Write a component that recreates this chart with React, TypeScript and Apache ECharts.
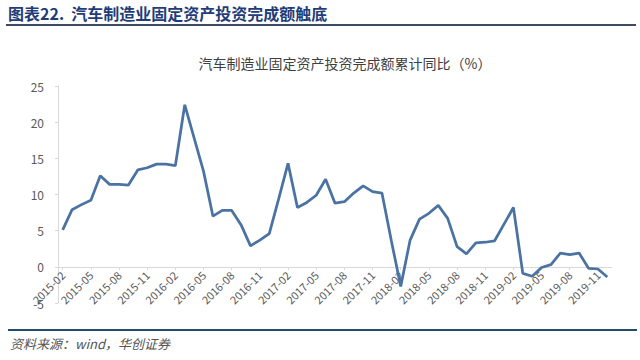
import React, { useEffect, useRef } from "react";
import * as echarts from "echarts";

const months: string[] = [];
for (let y = 2015; y <= 2019; y++) {
  for (let m = 1; m <= 12; m++) {
    if (y === 2015 && m === 1) continue;
    months.push(`${y}-${m < 10 ? "0" + m : m}`);
  }
}

const values = [
  5.1, 7.9, 8.6, 9.2, 12.6, 11.4, 11.4, 11.3, 13.4, 13.7, 14.2, 14.2,
  14.0, 22.4, 17.8, 13.2, 7.0, 7.8, 7.8, 5.8, 2.9, 3.7, 4.6, 9.4,
  14.3, 8.2, 8.9, 9.9, 12.1, 8.8, 9.0, 10.2, 11.2, 10.4, 10.2, 3.6,
  -2.7, 3.7, 6.6, 7.4, 8.5, 6.7, 2.8, 1.8, 3.3, 3.4, 3.6, 5.9,
  8.2, -0.9, -1.3, -0.1, 0.3, 1.9, 1.7, 1.9, -0.2, -0.3, -1.4,
];

const yTicks = [-5, 0, 5, 10, 15, 20, 25];

const headerText = "图表22.  汽车制造业固定资产投资完成额触底";
const chartTitle = "汽车制造业固定资产投资完成额累计同比（%）";
const sourceText = "资料来源：wind，华创证券";

export default function App() {
  const ref = useRef<HTMLDivElement>(null);
  useEffect(() => {
    if (!ref.current) return;
    const chart = echarts.init(ref.current, null, { renderer: "svg" });
    chart.setOption({
      animation: false,
      backgroundColor: "#ffffff",
      textStyle: { fontFamily: "'Noto Sans CJK SC', 'Noto Sans', sans-serif" },
      title: {
        text: chartTitle,
        left: 340,
        textAlign: "center",
        top: 51,
        textStyle: {
          fontSize: 14,
          fontWeight: "normal",
          color: "#404040",
          fontFamily: "'Noto Sans CJK SC', sans-serif",
        },
      },
      graphic: [
        {
          type: "text",
          left: 8,
          top: 5,
          style: {
            text: headerText,
            fontSize: 16,
            fontWeight: "bold",
            fill: "#1f3d78",
            fontFamily: "'Noto Sans CJK SC', sans-serif",
          },
        },
        {
          type: "rect",
          shape: { x: 6, y: 24, width: 630, height: 2 },
          style: { fill: "#3c4a62" },
        },
        {
          type: "rect",
          shape: { x: 8, y: 329, width: 629, height: 2 },
          style: { fill: "#1f4d6b" },
        },
        {
          type: "text",
          left: 10,
          top: 337,
          style: {
            text: sourceText,
            fontSize: 13,
            fontStyle: "italic",
            fill: "#555555",
            fontFamily: "'Noto Sans CJK SC', sans-serif",
          },
        },
      ],
      grid: { left: 58, right: 28, top: 86, bottom: 57, containLabel: false },
      xAxis: {
        type: "category",
        data: months,
        boundaryGap: true,
        position: "bottom",
        offset: -36,
        axisLine: {
          onZero: false,
          lineStyle: { color: "#d9d9d9", width: 1 },
        },
        axisTick: {
          show: true,
          interval: 2,
          alignWithLabel: true,
          length: 3,
          lineStyle: { color: "#d9d9d9" },
        },
        axisLabel: {
          interval: 2,
          rotate: 45,
          fontSize: 11,
          color: "#595959",
          margin: 6,
        },
        splitLine: { show: false },
      },
      yAxis: {
        type: "value",
        min: -5,
        max: 25,
        interval: 5,
        axisLine: { show: true, lineStyle: { color: "#d9d9d9" } },
        axisTick: { show: true, length: 3, lineStyle: { color: "#d9d9d9" } },
        axisLabel: {
          fontSize: 12,
          color: "#595959",
          margin: 14,
          formatter: (v: number) => (yTicks.includes(v) ? String(v) : ""),
        },
        splitLine: { show: false },
      },
      series: [
        {
          type: "line",
          data: values,
          symbol: "none",
          z: 3,
          lineStyle: { color: "#4a72a2", width: 2.75 },
          itemStyle: { color: "#4a72a2" },
        },
      ],
    });
    return () => chart.dispose();
  }, []);
  return (
    <div
      ref={ref}
      style={{ position: "fixed", left: 0, top: 0, width: 640, height: 360 }}
    />
  );
}
